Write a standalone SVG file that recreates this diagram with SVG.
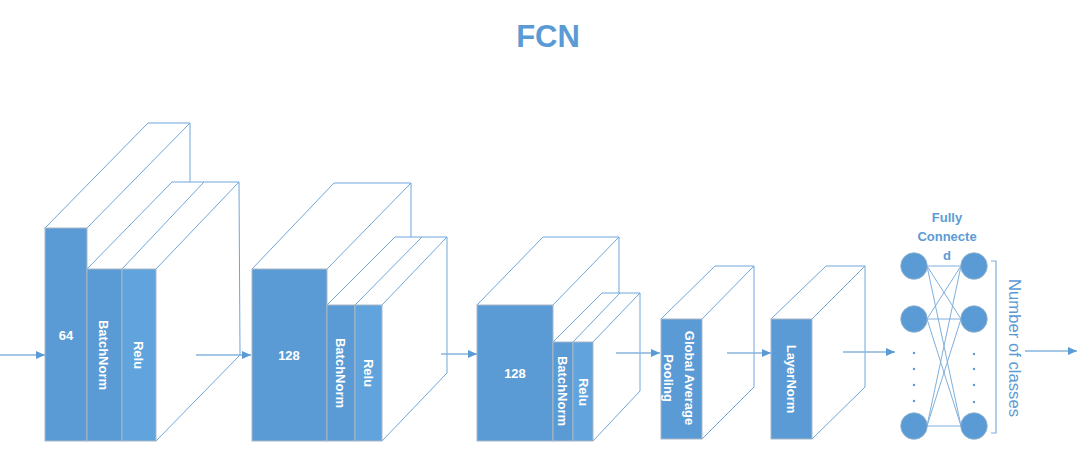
<svg xmlns="http://www.w3.org/2000/svg" width="1078" height="449" viewBox="0 0 1078 449">
<style>
.face{fill:#5b9bd5;stroke:#aab8c6;stroke-width:1}
.relu{fill:#61a3dc;stroke:#aab8c6;stroke-width:1}
.edge{fill:none;stroke:#6ea6da;stroke-width:1}
.lbl{fill:#ffffff;font-family:"Liberation Sans",Arial,sans-serif;font-weight:bold;font-size:13px;text-anchor:middle;dominant-baseline:central}
.arrow{stroke:#86b4de;stroke-width:1.5;fill:none;marker-end:url(#ah)}
.fc{stroke:#7fb0dd;stroke-width:1;fill:none}
.node{fill:#5b9bd5;stroke:#9ab4cc;stroke-width:0.8}
.dot{fill:#5b9bd5}
.blue{fill:#5b9bd5;font-family:"Liberation Sans",Arial,sans-serif}
</style>
<defs>
<marker id="ah" markerWidth="10" markerHeight="10" refX="9" refY="4" orient="auto" markerUnits="userSpaceOnUse">
<path d="M0,0 L9,4 L0,8 Z" fill="#5b9bd5"/>
</marker>
</defs>
<rect width="1078" height="449" fill="#ffffff"/>
<text x="548" y="47" class="blue" font-size="31" font-weight="bold" text-anchor="middle">FCN</text>

<g id="block1">
<path class="edge" d="M45,228 L148,123 L190,123 L190,182 M87,228 L190,123 M87,269 L172,182 L239,182 L240,355 L156,441 M122,269 L204,182 M156,269 L239,182"/>
<rect class="face" x="45" y="228" width="42" height="213"/>
<rect class="face" x="87" y="269" width="35" height="172"/>
<rect class="relu" x="122" y="269" width="34" height="172"/>
<text class="lbl" x="66" y="335">64</text>
<text class="lbl" transform="translate(103,355) rotate(90)">BatchNorm</text>
<text class="lbl" transform="translate(138,355) rotate(90)">Relu</text>
</g>

<g id="block2">
<path class="edge" d="M252,269 L334,183 L411,183 L411,237 M327,269 L411,183 M327,305 L395,237 L447,237 L447,373 L382,441 M355,305 L422,237 M382,305 L447,237"/>
<rect class="face" x="252" y="269" width="75" height="172"/>
<rect class="face" x="327" y="305" width="28" height="136"/>
<rect class="relu" x="355" y="305" width="27" height="136"/>
<text class="lbl" x="289" y="355">128</text>
<text class="lbl" transform="translate(340,373) rotate(90)">BatchNorm</text>
<text class="lbl" transform="translate(368,373) rotate(90)">Relu</text>
</g>

<g id="block3">
<path class="edge" d="M477,305 L543,237 L619,237 L619,293 M553,305 L619,237 M553,342 L602,293 L640,293 L640,391 L593,441 M573,342 L620,293 M593,342 L640,293"/>
<rect class="face" x="477" y="305" width="76" height="136"/>
<rect class="face" x="553" y="342" width="20" height="99"/>
<rect class="relu" x="573" y="342" width="20" height="99"/>
<text class="lbl" x="515" y="373">128</text>
<text class="lbl" transform="translate(562,391) rotate(90)">BatchNorm</text>
<text class="lbl" transform="translate(583,392) rotate(90)">Relu</text>
</g>

<g id="gap">
<path class="edge" d="M661,319 L715,266 L754,266 L754,387 L702,439 M702,319 L754,266"/>
<rect class="face" x="661" y="319" width="41" height="120"/>
<text class="lbl" transform="translate(689,378) rotate(90)">Global Average</text>
<text class="lbl" transform="translate(668,378) rotate(90)">Pooling</text>
</g>

<g id="layernorm">
<path class="edge" d="M771,319 L826,266 L865,266 L865,387 L812,439 M812,319 L865,266"/>
<rect class="face" x="771" y="319" width="41" height="120"/>
<text class="lbl" transform="translate(791,379) rotate(90)">LayerNorm</text>
</g>

<g id="connectors">
<line class="arrow" x1="0" y1="355" x2="45" y2="355"/>
<line class="arrow" x1="196" y1="355" x2="251" y2="355"/>
<line class="arrow" x1="441" y1="354" x2="477" y2="354"/>
<line class="arrow" x1="616" y1="353" x2="660" y2="353"/>
<line class="arrow" x1="727" y1="353" x2="771" y2="353"/>
<line class="arrow" x1="843" y1="352" x2="895" y2="352"/>
<line class="arrow" x1="1025" y1="351" x2="1077" y2="351"/>
<path class="fc" d="M927,266 L961,266 M927,266 L961,319 M927,266 L961,426 M927,319 L961,266 M927,319 L961,319 M927,319 L961,426 M927,426 L961,266 M927,426 L961,319 M927,426 L961,426"/>
</g>

<g id="fully-connected">
<text class="blue" x="947" y="222" font-size="13" font-weight="bold" text-anchor="middle">Fully</text>
<text class="blue" x="947" y="241" font-size="13" font-weight="bold" text-anchor="middle">Connecte</text>
<text class="blue" x="947" y="260" font-size="13" font-weight="bold" text-anchor="middle">d</text>
<circle class="node" cx="914" cy="266" r="13.3"/>
<circle class="node" cx="914" cy="319" r="13.3"/>
<circle class="node" cx="914" cy="426" r="13.3"/>
<circle class="node" cx="974" cy="266" r="13.3"/>
<circle class="node" cx="974" cy="319" r="13.3"/>
<circle class="node" cx="974" cy="426" r="13.3"/>
<circle class="dot" cx="914" cy="353" r="1.2"/>
<circle class="dot" cx="914" cy="369" r="1.2"/>
<circle class="dot" cx="914" cy="385" r="1.2"/>
<circle class="dot" cx="914" cy="401" r="1.2"/>
<circle class="dot" cx="974" cy="354" r="1.2"/>
<circle class="dot" cx="974" cy="369" r="1.2"/>
<circle class="dot" cx="974" cy="385" r="1.2"/>
<circle class="dot" cx="974" cy="402" r="1.2"/>
</g>

<g id="classes">
<path d="M991,261 L996,261 L996,433 L991,433" fill="none" stroke="#7fb0dd" stroke-width="1.2"/>
<text class="blue" transform="translate(1014,348) rotate(90)" font-size="16" text-anchor="middle" dominant-baseline="central" textLength="138" lengthAdjust="spacingAndGlyphs">Number of classes</text>
</g>
</svg>
